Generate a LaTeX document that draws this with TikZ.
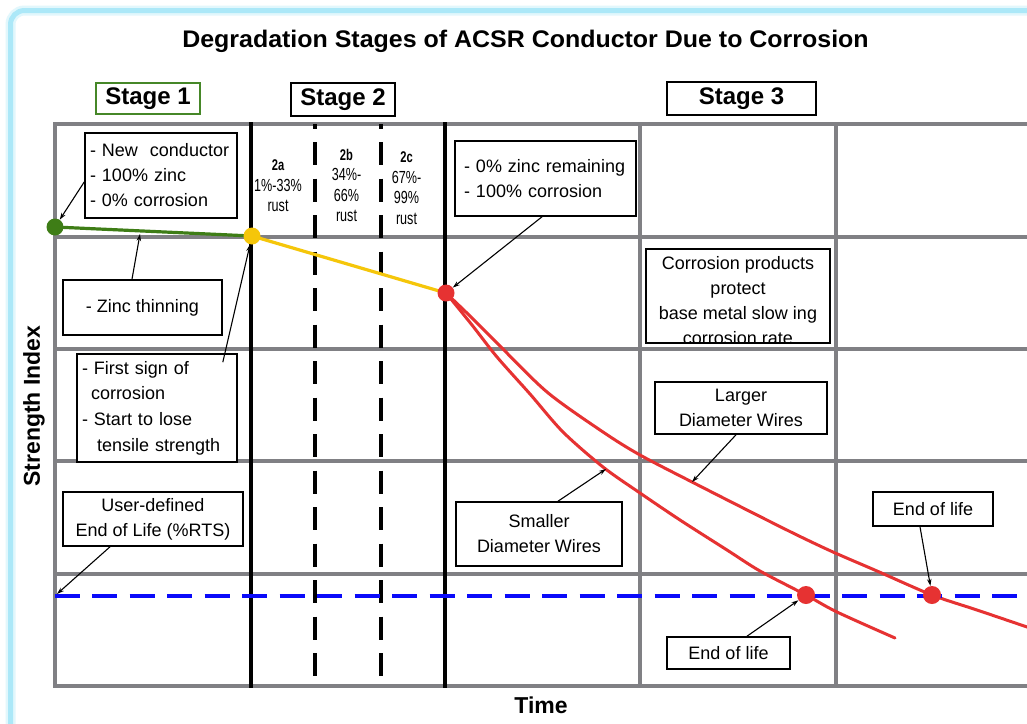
\documentclass[tikz,border=0pt]{standalone}
\usepackage{fontspec}
\setmainfont{Liberation Sans}
\newfontfamily\narrowfont[FakeStretch=0.72]{Liberation Sans}
\newfontfamily\titlefont[FakeStretch=1.04]{Liberation Sans}
\usetikzlibrary{arrows.meta,calc}

\definecolor{gridgray}{RGB}{128,128,132}
\definecolor{framecyan}{RGB}{172,232,248}
\definecolor{stagegreen}{RGB}{70,135,40}
\definecolor{zincgreen}{RGB}{62,125,22}
\definecolor{rustyellow}{RGB}{245,198,10}
\definecolor{wirered}{RGB}{230,50,50}
\definecolor{limitblue}{RGB}{10,10,250}

\tikzset{
  gridline/.style={draw=gridgray, line width=4pt},
  stagediv/.style={draw=black, line width=4pt},
  subdiv/.style={draw=black, line width=4.5pt, dash pattern=on 23pt off 13.5pt, dash phase=18.5pt},
  box/.style={draw=black, line width=1.6pt, fill=white, inner sep=0pt,
              font=\fontsize{18}{25}\selectfont},
  stagebox/.style={draw=black, line width=1.8pt, fill=white, inner sep=0pt,
              font=\bfseries\fontsize{24}{28}\selectfont},
  sublabel/.style={align=center, inner sep=0pt, font=\narrowfont\fontsize{17.5}{20.5}\selectfont},
  arr/.style={-{Stealth[length=7pt,width=4.5pt]}, line width=1.1pt},
  dot/.style={circle, inner sep=0pt, minimum size=17pt},
  wire/.style={draw=wirered, line width=3pt, line cap=round},
  axislabel/.style={font=\bfseries\fontsize{23}{27}\selectfont, inner sep=0pt}
}

\begin{document}
\begin{tikzpicture}[x=1pt,y=-1pt]
\useasboundingbox (0,0) rectangle (1027,723);
\fill[white] (0,0) rectangle (1027,723);

% soft cyan frame (left and top edges)
\draw[framecyan!35, line width=10pt, rounded corners=14pt] (10.5,760) -- (10.5,10.5) -- (1060,10.5);
\draw[framecyan, line width=5pt, rounded corners=14pt] (10.5,760) -- (10.5,10.5) -- (1060,10.5);

% title
\node[anchor=base, inner sep=0pt, font=\titlefont\bfseries\fontsize{24}{28}\selectfont] (title) at (525.5,47) {Degradation Stages of ACSR Conductor Due to Corrosion};

% stage headers
\node[stagebox, draw=stagegreen, minimum width=104pt, minimum height=31pt] (s1) at (148,98.5) {Stage 1};
\node[stagebox, minimum width=104pt, minimum height=33pt] (s2) at (343,99.5) {Stage 2};
\node[stagebox, minimum width=149pt, minimum height=33pt] (s3) at (741.5,98.5) {Stage 3};

% grid
\foreach \gy in {124,236.5,349,461,573.5,686}
  \draw[gridline] (53,\gy) -- (1040,\gy);
\foreach \gx in {55,640,836}
  \draw[gridline] (\gx,122) -- (\gx,688);

% stage boundaries and sub-stage boundaries
\draw[stagediv] (251,122) -- (251,688);
\draw[stagediv] (445,122) -- (445,688);
\draw[subdiv] (315,124) -- (315,686);
\draw[subdiv] (381,124) -- (381,686);

% sub-stage labels
\node[sublabel] (sa) at (278,186) {\bfseries\fontsize{15.5}{20.5}\selectfont 2a\\1\%-33\%\\rust};
\node[sublabel] (sb) at (346.5,185.5) {\bfseries\fontsize{15.5}{20.5}\selectfont 2b\\34\%-\\66\%\\rust};
\node[sublabel] (sc) at (406.5,188) {\bfseries\fontsize{15.5}{20.5}\selectfont 2c\\67\%-\\99\%\\rust};

% key points of the strength curve
\coordinate (pg) at (55,227);
\coordinate (py) at (252,236);
\coordinate (pr) at (446,293);
\coordinate (ps) at (806,595);
\coordinate (pl) at (932,595);

% zinc and rust stages
\draw[zincgreen, line width=3.2pt] (pg) -- (py);
\draw[rustyellow, line width=3.2pt] (py) -- (pr);

% wire strength curves
\draw[wire] plot[smooth, tension=0.5] coordinates {(446,293) (470,316) (497,343) (547,392) (603,432) (640,455) (692,482) (753,513) (797,535) (833,552) (877,571) (932,595) (977,610) (1030,628)};
\draw[wire] plot[smooth, tension=0.5] coordinates {(446,293) (472,325) (497,357) (530,394) (563,432) (603,467) (640,493) (680,520) (727,550) (760,571) (806,595) (837,612) (895,638)};

% user-defined end-of-life level
\draw[limitblue, line width=4.5pt, dash pattern=on 25pt off 12.5pt] (54.5,596) -- (1040,596);

% markers
\node[dot, fill=zincgreen] (dg) at (pg) {};
\node[dot, fill=rustyellow] (dy) at (py) {};
\node[dot, fill=wirered] (dr) at (pr) {};
\node[dot, fill=wirered, minimum size=18pt] (ds) at (ps) {};
\node[dot, fill=wirered, minimum size=18pt] (dl) at (pl) {};

% points on curves targeted by callouts
\coordinate (zt) at (140,234);
\coordinate (sm) at (606,469);
\coordinate (lg) at (692,482);
\coordinate (eol) at (57,594);

% callout boxes
\node[box, minimum height=85pt, text width=142pt, inner xsep=5pt, align=left] (b1) at (161,175.5)
  {- New\ \ conductor\\- 100\% zinc\\- 0\% corrosion};
\node[box, minimum width=159pt, minimum height=55pt] (b2) at (142.5,307.5) {- Zinc thinning};
\node[box, minimum height=108pt, text width=150pt, inner xsep=5pt, align=left,
      font=\fontsize{18}{25.7}\selectfont] (b3) at (157,408)
  {- First sign of\\\hspace*{9pt}corrosion\\- Start to lose\\\hspace*{15pt}tensile strength};
\node[box, minimum width=180pt, minimum height=54pt, align=center] (b4) at (153,519)
  {User-defined\\End of Life (\%RTS)};
\node[box, minimum height=75pt, text width=163pt, inner xsep=9pt, align=left] (b5) at (545.5,178.5)
  {- 0\% zinc remaining\\- 100\% corrosion};
\node[box, minimum width=184pt, minimum height=94pt,
      path picture={\node[draw=none, fill=none, align=center, inner sep=0pt,
                          font=\fontsize{18}{25}\selectfont]
                    at ([yshift=-4.5pt]path picture bounding box.center)
                    {Corrosion products\\protect\\base metal slow ing\\corrosion rate};}] (b6) at (738,296) {};
\node[box, minimum width=172pt, minimum height=52pt, align=center] (b7) at (741,408)
  {Larger\\Diameter Wires};
\node[box, minimum width=166pt, minimum height=64pt, align=center] (b8) at (539,534)
  {Smaller\\Diameter Wires};
\node[box, minimum width=123pt, minimum height=32pt] (b9) at (728.5,653) {End of life};
\node[box, minimum width=120pt, minimum height=34pt] (b10) at (933,509) {End of life};

% callout arrows
\draw[arr] ($(b1.west)+(0,6.5)$) -- (dg);
\draw[arr] ($(b2.north)+(-10.5,0)$) -- (zt);
\draw[arr] ($(b3.north east)+(-15,9)$) -- (dy);
\draw[arr] ($(b5.south)+(-3.5,0)$) -- (dr);
\draw[arr] ($(b8.north)+(19,0)$) -- (sm);
\draw[arr] ($(b7.south)+(-5,0)$) -- (lg);
\draw[arr] ($(b10.south)+(-13,0)$) -- (dl);
\draw[arr] ($(b9.north)+(18.5,0)$) -- (ds);
\draw[arr] ($(b4.south)+(-43,0)$) -- (eol);

% axis labels
\node[axislabel, rotate=90] (ylab) at (34,406) {Strength Index};
\node[axislabel, anchor=base] (xlab) at (541,713) {Time};
\end{tikzpicture}
\end{document}
